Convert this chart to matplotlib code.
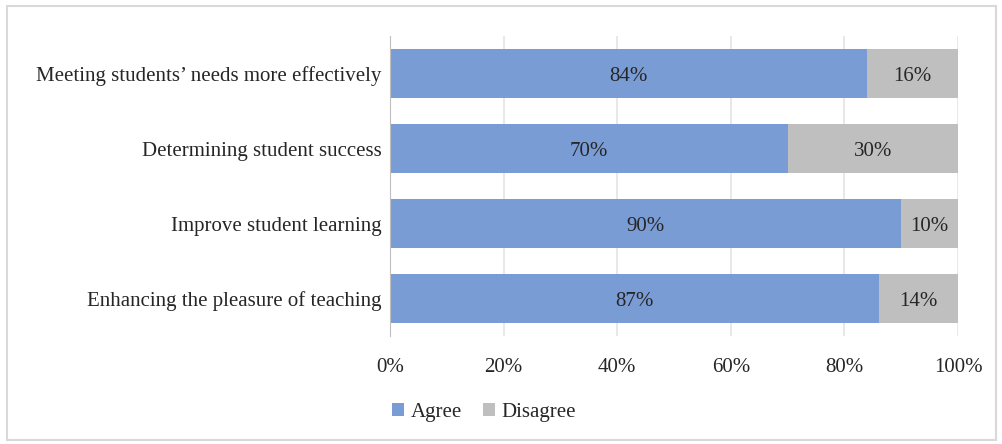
import matplotlib.pyplot as plt
import numpy as np

plt.rcParams['font.family'] = ['Liberation Serif', 'DejaVu Serif']

categories = ["Meeting students\u2019 needs more effectively",
              "Determining student success",
              "Improve student learning",
              "Enhancing the pleasure of teaching"]
agree = [84, 70, 90, 87]
disagree = [16, 30, 10, 14]

agree = np.array(agree, dtype=float)
disagree = np.array(disagree, dtype=float)
total = agree + disagree
# 100% stacked: each bar is scaled to its own total
agree_share = agree / total
disagree_share = disagree / total

fig = plt.figure(figsize=(10.03, 4.44), dpi=100)
ax = fig.add_axes([390 / 1003, 1 - 336 / 444, 568 / 1003, 300 / 444])

y = np.arange(len(categories))[::-1]
blue = "#7A9CD5"
gray = "#BFBFBF"
ax.barh(y, agree_share, height=0.65, color=blue, label="Agree", zorder=2)
ax.barh(y, disagree_share, left=agree_share, height=0.65, color=gray,
        label="Disagree", zorder=2)

fs = 15
for yi, a, d, av, dv in zip(y, agree_share, disagree_share, agree, disagree):
    ax.text(a / 2, yi, f"{av:.0f}%", ha="center", va="center_baseline", fontsize=fs,
            color="#262626", zorder=3)
    ax.text(a + d / 2, yi, f"{dv:.0f}%", ha="center", va="center_baseline", fontsize=fs,
            color="#262626", zorder=3)

ax.set_xlim(0, 1)
ax.set_ylim(-0.5, len(categories) - 0.5)
ax.set_xticks(np.linspace(0, 1, 6))
ax.set_xticklabels([f"{v}%" for v in range(0, 101, 20)], fontsize=fs, color="#262626")
ax.set_yticks(y)
ax.set_yticklabels(categories, fontsize=fs, color="#262626")
ax.tick_params(length=0, pad=6)
ax.tick_params(axis="x", pad=16)
ax.grid(axis="x", color="#D9D9D9", linewidth=1.2, zorder=4, alpha=0.7)
for s in ["top", "right", "bottom"]:
    ax.spines[s].set_visible(False)
ax.spines["left"].set_color("#BFBFBF")

ax.legend(loc="center", bbox_to_anchor=(484 / 1003, 1 - 412 / 444),
          bbox_transform=fig.transFigure, ncol=2, frameon=False, fontsize=fs,
          handlelength=0.6, handleheight=0.6, handletextpad=0.3, columnspacing=1.0,
          labelcolor="#262626")

# light frame around the whole chart area
fig.patches.append(plt.Rectangle((7 / 1003, 4 / 444), 989 / 1003, 434 / 444,
                                 transform=fig.transFigure, fill=False,
                                 edgecolor="#D9D9D9", linewidth=1.5))

fig.savefig("out.png", dpi=100)
